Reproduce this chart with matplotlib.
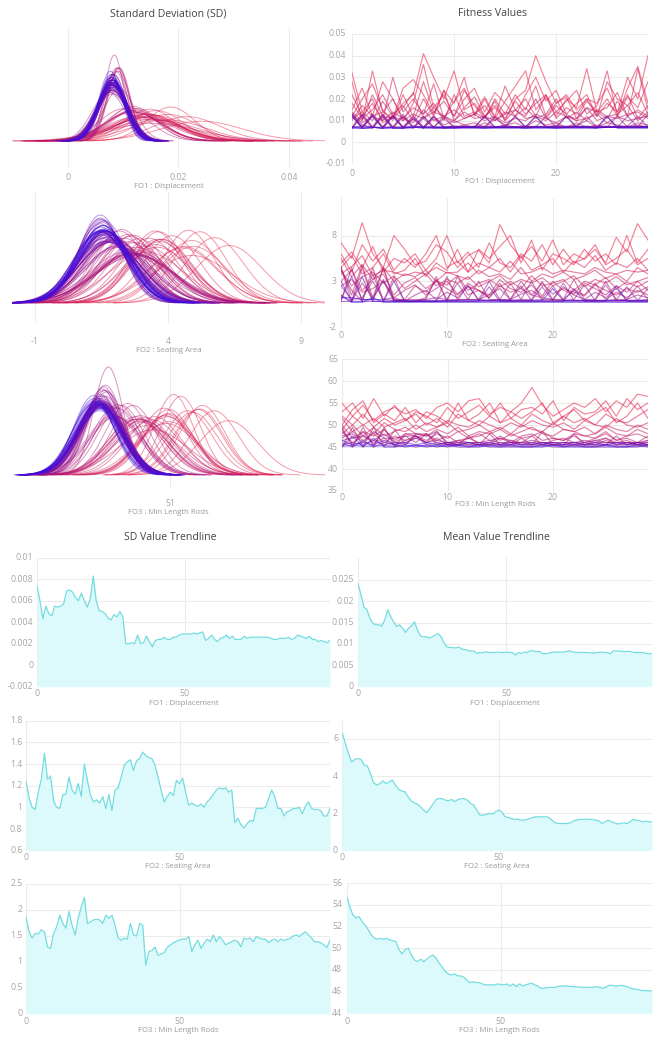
import numpy as np
import matplotlib
matplotlib.use('Agg')
import matplotlib.pyplot as plt
from matplotlib.transforms import blended_transform_factory

# ---------------- data ----------------
GEN = list(range(100))

SD_FO1 = [7.4,6.0,4.3,5.5,4.8,4.6,5.5,5.4,5.5,5.7, 6.9,7.0,6.8,6.3,6.0,6.7,6.0,5.4,6.2,8.3,
          6.0,5.1,5.0,4.8,4.4,4.2,4.7,4.5,5.0,4.5, 2.0,2.0,2.1,2.0,2.8,2.0,2.1,2.7,2.2,1.7,
          2.3,2.4,2.4,2.6,2.4,2.4,2.6,2.6,2.8,2.9, 2.9,2.9,2.9,3.0,2.9,3.0,3.1,2.3,2.5,2.8,
          2.4,2.2,2.5,2.6,2.8,2.5,2.7,2.4,2.4,2.4, 2.7,2.5,2.6,2.6,2.6,2.6,2.6,2.6,2.6,2.5,
          2.4,2.4,2.5,2.5,2.5,2.6,2.4,2.5,2.8,2.7, 2.6,2.5,2.7,2.4,2.4,2.2,2.3,2.2,2.1,2.3]   # x 0.001
MEAN_FO1 = [24.2,21.5,18.6,18.1,16.0,14.8,14.5,14.5,14.2,15.6, 18.0,16.4,15.2,14.1,14.5,13.7,12.7,13.7,14.2,15.2,
            13.3,11.9,11.7,11.7,11.4,11.7,12.1,12.4,11.7,10.2, 9.3,9.2,9.1,9.1,9.3,8.8,8.7,8.5,8.3,8.4,
            7.8,8.0,7.9,8.2,8.0,8.0,8.0,8.1,8.0,8.0, 8.1,8.0,8.0,7.4,8.0,7.8,8.1,8.0,8.4,8.4,
            8.2,8.3,7.8,7.7,7.8,8.0,8.1,8.1,8.1,8.1, 8.2,8.4,8.2,8.1,8.0,8.1,8.0,8.0,8.0,7.8,
            8.0,8.0,8.1,8.0,8.0,7.7,8.4,8.4,8.3,8.3, 8.2,8.3,8.2,8.0,8.0,8.0,8.0,7.8,7.7,7.8]  # x 0.001
SD_FO2 = [1.24,1.09,1.0,0.98,1.14,1.26,1.5,1.26,1.29,1.06, 1.0,0.99,1.12,1.12,1.28,1.16,1.12,1.22,1.1,1.4,
          1.25,1.11,1.05,1.07,1.04,1.1,0.99,1.12,0.97,1.16, 1.18,1.28,1.39,1.42,1.44,1.34,1.43,1.45,1.51,1.48,
          1.46,1.45,1.39,1.28,1.16,1.05,1.1,1.14,1.11,1.25, 1.22,1.27,1.14,1.02,1.04,1.02,1.01,1.03,1.0,1.05,
          1.08,1.12,1.16,1.18,1.17,1.18,1.14,1.16,0.86,0.9, 0.84,0.81,0.85,0.88,0.87,0.99,0.99,0.99,1.0,1.08,
          1.16,1.1,0.99,0.99,0.92,0.96,0.97,0.99,0.99,1.0, 0.94,1.01,1.05,0.99,0.98,0.98,0.97,0.92,0.92,0.99]
MEAN_FO2 = [6.3,5.75,5.2,4.77,4.9,4.95,4.9,4.6,4.55,4.15, 3.65,3.52,3.6,3.75,3.6,3.7,3.79,3.52,3.29,3.2,
            3.16,2.9,2.68,2.57,2.5,2.36,2.18,2.04,2.27,2.5, 2.75,2.8,2.79,2.71,2.68,2.75,2.63,2.75,2.79,2.8,
            2.71,2.54,2.45,2.18,1.91,1.91,1.95,2.0,1.96,2.09, 2.18,2.09,1.82,1.79,1.73,1.68,1.7,1.64,1.64,1.68,
            1.73,1.79,1.82,1.82,1.82,1.82,1.79,1.64,1.5,1.46, 1.46,1.46,1.46,1.5,1.61,1.64,1.68,1.68,1.7,1.68,
            1.68,1.64,1.61,1.46,1.55,1.64,1.55,1.5,1.43,1.46, 1.5,1.46,1.55,1.68,1.64,1.61,1.55,1.59,1.55,1.55]
SD_FO3 = [1.87,1.58,1.46,1.55,1.54,1.62,1.58,1.29,1.26,1.55, 1.68,1.9,1.74,1.65,1.97,1.71,1.52,1.84,2.06,2.24,
          1.74,1.77,1.81,1.82,1.81,1.74,1.9,1.84,1.9,1.71, 1.46,1.42,1.46,1.44,1.74,1.52,1.5,1.74,1.71,0.94,
          1.2,1.22,1.29,1.13,1.15,1.18,1.28,1.33,1.37,1.4, 1.42,1.44,1.44,1.49,1.2,1.33,1.42,1.26,1.36,1.44,
          1.39,1.52,1.39,1.49,1.42,1.33,1.36,1.39,1.42,1.39, 1.29,1.46,1.44,1.46,1.39,1.49,1.46,1.44,1.44,1.37,
          1.42,1.44,1.39,1.44,1.41,1.44,1.45,1.5,1.52,1.49, 1.54,1.58,1.52,1.46,1.39,1.39,1.37,1.33,1.28,1.42]
MEAN_FO3 = [54.77,53.85,53.1,52.8,52.92,52.46,52.15,51.7,51.23,50.92, 50.83,50.92,50.83,50.92,50.77,50.7,50.6,49.85,49.48,49.9,
            50.0,49.38,48.92,48.77,49.0,48.77,49.0,49.23,49.38,49.08, 48.62,48.25,47.85,47.63,47.54,47.63,47.45,47.45,47.32,47.02,
            46.83,46.92,46.83,46.83,46.71,46.62,46.62,46.62,46.62,46.71, 46.65,46.62,46.71,46.52,46.71,46.46,46.71,46.52,46.62,46.71,
            46.77,46.62,46.52,46.31,46.31,46.37,46.4,46.37,46.43,46.52, 46.52,46.52,46.49,46.46,46.46,46.43,46.4,46.4,46.4,46.4,
            46.4,46.46,46.4,46.31,46.4,46.58,46.58,46.52,46.52,46.58, 46.52,46.46,46.31,46.25,46.22,46.15,46.09,46.09,46.06,46.09]

# Fitness values of individuals 0..29 for a subset of generations
FIT1_GEN = [0, 3, 6, 9, 12, 15, 18, 21, 24, 27, 30, 34, 38, 42, 46, 50, 58, 66, 74, 82, 90, 99]
FIT1 = [  # x 0.001
    [32,14,20,9,12,18,22,41,30,20,33,15,18,12,16,10,20,24,40,28,18,22,15,20,18,25,14,30,20,40],
    [28,10,33,14,11,25,29,22,13,24,18,30,12,20,11,19,26,33,15,21,12,20,16,34,14,20,12,25,35,18],
    [15,25,12,28,20,10,18,36,16,22,12,20,25,14,23,18,12,22,30,19,24,13,18,22,12,28,20,17,23,13],
    [22,12,18,10,30,14,20,13,27,11,19,25,13,21,12,26,15,20,12,22,14,19,24,13,17,33,12,21,16,28],
    [12,20,27,15,10,22,12,28,14,19,12,24,17,11,20,13,22,15,26,12,18,21,11,19,14,16,23,12,34,15],
    [18,11,15,22,13,17,10,20,12,24,10,16,21,12,17,11,19,13,18,22,11,16,13,20,12,18,14,22,11,17],
    [10,17,12,14,20,11,16,13,18,10,22,12,14,11,19,10,15,12,20,11,17,13,10,16,14,11,19,12,15,12],
    [14,10,22,12,11,16,23,11,14,12,15,11,13,17,10,14,12,16,11,13,20,11,14,10,15,12,13,17,10,14],
    [11,14,10,19,12,10,13,11,16,12,10,14,11,12,10,13,15,11,12,10,14,12,11,16,10,12,11,13,14,11],
    [13,9,12,10,14,11,9,15,10,12,9,11,13,10,12,9,11,10,13,11,9,12,10,11,13,9,12,10,11,12],
    [13,7,13,7,13,7,12,7,12,8,10,8,9,7,11,8,9,7,10,8,9,7,8,10,7,9,8,7,9,8],
    [7,13,7,13,7,13,7,12,7,12,7,8,7,9,7,8,7,7,12,7,8,7,9,7,8,7,12,7,8,7],
    [12,6.5,12,6.5,12,6.5,11,6.5,11,7,7.5,7,7,12,7,7.5,7,7,7.5,7,7,12,7,7.5,7,7,7,7.5,12,7],
    [6.5,12,6.5,12,6.5,12,6.5,11,6.5,7,7,7.5,7,7,7,7,12,7,7,7.5,7,7,7,12,7,7.5,7,7,7,7],
    [13,8,7,13,7,7,12,7,7,11,7,7,7.5,7,7,7,7,7.5,7,12,7,7,7.5,7,7,7,7.5,7,7,13],
    [7,7,13,7,7,12,7,7,12,7,7.5,7,7,7,12,7,7,7.5,7,7,7,7.5,7,7,7,12,7,7,7.5,7],
    [6.5,13,7,6.5,12,7,6.5,12,7,6.5,7,7,7,7.5,7,7,7,7,7,7,7.5,7,7,7,7,7,7,12,7,7],
    [13,6.5,6.5,12,6.5,6.5,11,6.5,12,6.5,7,7,7,7,7,7.5,12,7,7,7,7,7,7.5,7,7,7,7,7,7,7],
    [7,7.5,7,7,7,7,7.5,7,7,7,7,7,7,12,7,7,7,7,7,7,7,12,7,7,7,7,7,7.5,7,7],
    [12,7,12,7,12,7,7,7,7,7,7,7,7,7,7,7,7,7,12,7,7,7,7,7,7,7,7,7,7,7.5],
    [6.5,6.5,7,6.5,6.5,6.5,7,6.5,6.5,6.5,6.5,6.5,6.5,6.5,6.5,6.5,6.5,6.5,6.5,6.5,6.5,6.5,6.5,6.5,6.5,12,6.5,6.5,6.5,6.5],
    [7,6.5,7,6.5,7,6.5,7,7,7,7,6.5,7,7,6.5,7,7,7,6.5,7,7,6.5,7,7,7,6.5,7,7,7,7,7],
]
FIT2_GEN = [0, 3, 6, 9, 12, 15, 18, 21, 24, 27, 30, 35, 40, 45, 50, 60, 70, 80, 90, 99]
FIT2 = [
    [7.2,5.5,9.4,6.0,4.5,8.0,6.5,4.8,5.2,7.0,6.2,4.5,5.8,6.4,5.0,9.2,7.0,5.5,6.8,5.2,7.5,4.8,6.0,5.4,6.5,5.0,7.8,6.2,9.3,7.5],
    [6.0,4.0,7.0,5.2,6.5,4.2,5.5,4.5,6.0,8.0,4.5,5.2,4.0,6.5,5.5,6.8,8.0,5.0,7.5,4.2,6.0,5.5,4.8,6.5,5.2,6.0,4.8,8.0,5.0,6.5],
    [5.0,6.2,4.5,6.8,4.0,5.5,5.0,6.0,4.2,5.5,8.0,5.0,6.2,4.5,7.2,5.0,4.5,6.0,5.2,7.0,4.8,6.5,5.0,5.5,7.0,4.8,5.5,6.5,4.8,5.5],
    [4.5,5.8,3.8,4.5,6.0,3.8,4.2,5.5,3.5,5.0,4.2,6.5,4.0,5.0,4.5,5.5,4.0,5.8,4.2,4.8,5.5,4.0,5.2,4.5,5.8,4.2,5.0,4.5,5.5,4.2],
    [3.8,4.6,5.8,3.6,4.2,4.0,3.6,4.0,3.8,4.5,3.9,4.0,5.0,3.8,4.5,4.0,5.2,3.8,4.0,4.5,3.8,4.2,4.0,3.8,4.5,4.0,3.8,4.2,4.0,4.2],
    [5.5,3.5,4.8,3.2,4.5,3.0,3.8,3.5,4.2,3.0,4.0,3.6,3.2,4.2,3.5,3.8,3.2,4.5,3.0,3.8,3.4,4.0,3.2,3.6,4.2,3.3,3.8,3.0,4.5,3.8],
    [4.2,2.5,3.5,4.0,2.8,3.6,2.2,3.0,3.8,2.5,3.2,2.8,3.5,2.4,3.0,3.6,2.6,3.2,2.8,3.4,2.5,3.0,3.6,2.4,3.2,2.8,3.5,2.6,3.0,3.4],
    [3.0,4.2,2.0,3.2,3.8,1.5,2.8,3.4,2.2,3.0,2.6,3.6,2.0,2.8,3.2,2.4,3.0,2.2,3.6,2.5,2.8,3.2,2.0,3.0,2.6,3.4,2.2,2.9,2.4,3.0],
    [4.5,1.5,4.8,1.2,4.5,1.0,1.0,2.5,1.8,3.0,2.2,1.5,2.8,2.0,1.5,3.2,2.2,1.8,2.6,1.4,3.0,2.0,1.6,2.8,2.2,1.5,2.5,1.8,3.0,2.0],
    [2.5,3.2,1.8,2.2,3.0,1.2,2.0,2.6,1.5,2.2,3.0,1.6,2.4,2.0,1.2,2.5,1.8,2.2,1.5,2.8,1.6,2.2,1.8,1.4,2.6,2.0,1.5,2.2,1.8,2.4],
    [4.5,0.8,4.5,0.8,4.5,0.8,1.0,1.0,1.0,3.5,0.8,3.5,1.5,2.0,1.2,2.8,1.0,3.0,1.5,1.2,2.5,1.0,2.0,1.5,2.8,1.0,1.8,1.2,2.0,1.5],
    [0.8,4.5,0.8,4.5,0.8,3.5,0.8,0.8,0.8,0.8,3.5,1.0,1.0,3.0,1.0,1.0,2.8,1.0,1.0,3.0,1.0,1.0,3.2,1.0,1.0,3.0,1.0,1.0,2.5,1.0],
    [4.2,2.0,0.8,3.8,0.8,0.8,0.8,0.8,1.2,3.2,1.0,1.0,1.0,1.0,3.0,1.0,0.9,1.0,3.0,0.9,0.9,2.8,0.9,0.9,0.9,2.6,0.9,0.9,0.9,2.2],
    [1.5,0.8,2.8,1.2,3.0,0.8,0.8,1.5,2.0,1.0,1.8,1.2,2.5,1.0,1.5,2.2,1.0,1.6,2.0,1.2,1.0,2.4,1.5,1.0,1.8,1.2,2.2,1.0,1.5,1.2],
    [2.5,1.0,1.2,3.0,1.0,1.2,0.8,0.8,1.0,1.2,1.0,2.8,1.0,1.0,0.9,1.0,1.0,2.5,0.9,1.0,1.0,0.9,1.0,2.6,0.9,0.9,1.0,2.4,0.9,1.0],
    [1.0,3.5,1.0,1.0,3.2,1.0,0.8,0.8,0.8,0.8,0.9,0.9,2.6,0.9,0.9,0.9,0.9,0.9,0.9,2.4,0.9,0.9,0.9,0.9,0.9,0.9,0.9,0.9,0.9,0.9],
    [0.8,0.8,3.5,0.8,0.8,3.0,0.8,0.8,0.8,0.8,0.8,0.8,0.8,0.8,2.4,0.8,0.8,0.8,0.8,0.8,0.8,0.8,2.2,0.8,0.8,0.8,0.8,0.8,0.8,0.8],
    [3.0,0.8,0.8,0.8,0.8,0.8,0.8,0.8,0.8,0.8,0.8,0.8,0.8,0.8,0.8,0.8,0.8,0.8,0.8,0.8,0.8,0.8,0.8,0.8,0.8,0.8,2.5,0.8,0.8,0.8],
    [1.2,1.2,1.0,1.0,1.0,0.9,0.9,0.9,0.9,0.9,0.9,0.9,0.9,0.9,0.9,0.9,0.9,0.9,0.9,0.9,2.2,0.9,0.9,0.9,0.9,0.9,0.9,0.9,0.9,0.9],
    [1.4,0.7,0.7,1.2,0.7,0.7,0.7,0.7,0.7,0.7,0.7,0.7,0.7,0.7,0.7,0.7,0.7,0.7,0.7,0.7,0.7,0.7,0.7,0.7,0.7,0.7,0.7,0.7,0.7,0.7],
]
FIT3_GEN = [0, 3, 6, 9, 12, 15, 18, 21, 24, 27, 30, 35, 40, 45, 50, 60, 70, 80, 90, 99]
FIT3 = [
    [55.0,52.0,54.5,51.0,53.0,54.0,52.5,53.5,51.5,54.0,55.0,53.0,55.5,56.0,52.5,54.0,53.0,55.0,58.5,54.5,52.0,53.5,55.0,54.0,56.0,53.0,55.5,54.0,57.0,56.5],
    [53.0,55.0,51.5,56.0,52.0,54.5,51.0,53.0,52.0,50.5,54.0,51.5,53.0,54.5,52.0,55.0,51.5,53.5,54.0,52.5,55.5,51.0,54.0,52.5,53.0,55.5,52.0,56.0,53.5,55.0],
    [50.0,53.5,55.5,50.5,52.5,51.0,54.0,50.5,53.0,52.0,50.5,55.0,51.0,52.5,55.0,50.5,53.0,51.5,53.0,55.0,50.5,52.0,53.5,51.0,52.5,54.0,50.5,52.0,55.0,51.5],
    [52.0,50.0,52.5,49.5,51.5,50.0,51.0,52.5,50.0,51.5,49.5,52.5,51.0,50.0,52.0,50.5,51.5,50.0,52.5,51.0,50.0,52.0,50.5,51.5,50.0,52.5,51.0,50.5,52.0,53.5],
    [49.0,52.0,50.0,51.5,49.5,50.5,51.5,49.0,50.5,49.5,51.0,50.0,49.5,51.0,50.0,49.0,50.5,49.5,51.0,50.0,49.5,50.5,49.0,51.0,50.0,49.5,51.5,50.0,49.5,50.5],
    [51.5,48.5,50.0,48.0,50.5,49.0,48.5,50.0,48.5,49.5,50.5,48.5,49.0,50.0,48.5,49.5,48.0,50.0,49.0,48.5,50.5,49.0,48.5,49.5,48.0,50.0,49.0,48.5,50.0,49.0],
    [48.0,50.0,47.5,49.5,47.5,48.5,49.5,48.0,47.5,49.0,48.0,49.5,47.5,48.5,48.0,49.0,47.5,48.5,49.5,48.0,47.5,49.0,48.5,47.5,48.0,49.5,48.0,47.5,49.0,48.0],
    [50.0,47.0,48.5,47.5,49.0,46.5,48.0,47.5,46.5,48.0,47.0,48.5,47.0,47.5,48.5,46.5,48.0,47.0,47.5,48.5,47.0,46.5,48.0,47.5,47.0,48.5,46.5,47.5,48.0,47.0],
    [47.0,48.5,46.5,48.0,46.0,47.5,46.5,47.0,48.0,46.5,47.5,46.0,47.0,48.0,46.5,47.0,46.0,47.5,48.0,46.5,47.0,46.5,47.5,46.0,47.0,48.0,46.5,47.0,46.0,47.5],
    [48.5,46.0,47.5,46.0,47.0,45.5,46.5,47.5,46.0,47.0,45.5,46.5,47.0,46.0,45.5,47.0,46.5,46.0,47.5,45.5,46.5,47.0,46.0,45.5,46.5,47.0,46.0,46.5,45.5,46.5],
    [49.5,45.0,49.5,45.0,49.5,45.0,48.0,48.0,48.0,45.5,46.0,45.5,47.5,45.5,46.0,45.5,46.5,45.5,45.5,48.5,45.5,46.0,45.5,45.5,46.0,47.0,45.5,46.0,45.5,46.0],
    [45.0,49.5,45.0,49.5,45.0,49.0,45.5,48.0,47.5,48.5,45.5,46.0,45.5,45.5,48.0,45.5,45.5,46.0,45.5,46.0,45.5,45.5,48.0,45.5,45.5,46.5,45.5,45.5,46.0,45.5],
    [49.0,45.5,48.5,45.5,49.0,46.0,47.5,46.0,48.0,46.0,45.5,45.5,45.5,45.5,45.5,45.5,45.5,47.0,45.5,45.5,45.5,45.5,45.5,45.5,45.5,45.5,47.5,45.5,45.5,45.5],
    [47.5,48.0,46.0,48.5,47.0,47.0,47.5,47.5,46.0,46.5,46.0,46.5,46.0,46.0,46.5,46.0,46.0,46.0,46.5,46.0,46.0,46.0,46.0,46.5,46.0,46.0,46.0,46.0,46.0,46.5],
    [46.5,47.0,47.5,46.5,48.0,46.0,46.0,47.0,46.0,48.5,46.0,46.0,46.0,46.0,46.0,47.5,46.0,46.0,46.0,46.0,46.0,46.0,46.0,46.0,46.5,46.0,46.0,46.0,46.0,46.0],
    [45.5,46.0,45.5,46.5,45.5,46.0,45.5,47.5,45.5,46.0,45.5,45.5,46.0,45.5,45.5,46.0,45.5,45.5,45.5,46.0,45.5,45.5,45.5,46.0,45.5,45.5,45.5,46.0,45.5,45.5],
    [46.0,45.0,46.5,45.0,46.0,45.5,45.0,45.5,45.0,45.5,45.0,45.5,45.0,45.5,45.0,45.0,45.5,45.0,45.0,45.5,45.0,45.0,45.5,45.0,45.0,45.5,45.0,45.0,45.0,45.5],
    [45.0,47.5,45.0,47.0,45.0,45.0,45.5,45.0,45.5,45.0,45.5,45.0,45.0,45.0,45.5,45.0,45.0,45.0,45.0,45.0,45.5,45.0,45.0,45.0,45.0,45.0,45.0,45.0,45.5,45.0],
    [46.5,45.5,46.0,45.5,46.5,45.5,46.0,45.5,46.0,45.5,46.0,45.5,46.0,45.5,46.0,45.5,46.0,45.5,46.0,45.5,46.0,45.5,46.0,45.5,46.0,45.5,46.0,45.5,46.0,45.5],
    [45.2,45.3,45.2,45.2,45.3,45.2,45.2,45.3,45.2,45.2,45.2,45.3,45.2,45.2,45.2,45.3,45.2,45.2,45.2,45.2,45.3,45.2,45.2,45.2,45.2,45.3,45.2,45.2,45.2,45.2],
]

TITLES = ["Standard Deviation (SD)", "Fitness Values", "SD Value Trendline", "Mean Value Trendline"]
LABELS = ["FO1 : Displacement", "FO2 : Seating Area", "FO3 : Min Length Rods"]

# ---------------- style ----------------
W, H = 654, 1039
plt.rcParams['font.family'] = ['Open Sans', 'DejaVu Sans']
fig = plt.figure(figsize=(W / 100, H / 100), dpi=100)
fig.patch.set_facecolor('white')

RED = np.array([0.92, 0.12, 0.26])
BLUE = np.array([0.24, 0.05, 0.88])
GRID = '#ebebeb'
TICKC = '#a6a6a6'
LABC = '#9a9a9a'
TITC = '#444444'
TICK_FS = 6.3
LAB_FS = 5.6
TIT_FS = 7.6
LINEC = '#74dcdf'
FILLC = '#dcfafb'


def gcol(g):
    f = g / 99.0
    return tuple(RED * (1 - f) + BLUE * f)


def add_ax(l, t, r, b):
    ax = fig.add_axes([l / W, 1 - b / H, (r - l) / W, (b - t) / H])
    for s in ax.spines.values():
        s.set_visible(False)
    ax.tick_params(length=0, labelbottom=False, labelleft=False)
    ax.set_facecolor('none')
    ax.set_axisbelow(True)
    return ax


def xtick_text(ax, ticks, labels, py):
    tr = blended_transform_factory(ax.transData, fig.transFigure)
    for t, lab in zip(ticks, labels):
        ax.text(t, 1 - py / H, lab, transform=tr, ha='center', va='center',
                fontsize=TICK_FS, color=TICKC, clip_on=False)


def ytick_text(ax, ticks, labels, px):
    tr = blended_transform_factory(fig.transFigure, ax.transData)
    for t, lab in zip(ticks, labels):
        ax.text(px / W, t, lab, transform=tr, ha='right', va='center',
                fontsize=TICK_FS, color=TICKC, clip_on=False)


def ftext(px, py, s, fs, c):
    fig.text(px / W, 1 - py / H, s, ha='center', va='center', fontsize=fs, color=c)


def density_panel(box, means, sds, xlim, ticks, ticklabels, B, P, tick_y, label, label_y):
    ax = add_ax(*box)
    peak = max(1.0 / (s * np.sqrt(2 * np.pi)) for s in sds)
    for g, m, s in zip(GEN, means, sds):
        xs = np.linspace(m - 3.5 * s, m + 3.5 * s, 160)
        ys = np.exp(-0.5 * ((xs - m) / s) ** 2) / (s * np.sqrt(2 * np.pi))
        ax.plot(xs, ys, color=gcol(g), lw=0.7, alpha=0.45, solid_capstyle='round')
    hpx = box[3] - box[1]
    k = peak / (P - B)
    ax.set_ylim(-B * k, (hpx - B) * k)
    ax.set_xlim(*xlim)
    ax.set_xticks(ticks)
    ax.set_yticks([])
    ax.grid(axis='x', color=GRID, lw=0.8)
    xtick_text(ax, ticks, ticklabels, tick_y)
    ftext((box[0] + box[2]) / 2, label_y, label, LAB_FS, LABC)
    return ax


def fitness_panel(box, gens, rows, scale, ylim, yt, ytl, ytx, xt_y, label, label_y):
    ax = add_ax(*box)
    for g, row in zip(gens, rows):
        ax.plot(range(len(row)), np.array(row) * scale, color=gcol(g), lw=0.85, alpha=0.55)
    ax.set_xlim(0, 29)
    ax.set_ylim(*ylim)
    ax.set_xticks([0, 10, 20])
    ax.set_yticks(yt)
    ax.grid(color=GRID, lw=0.8)
    xtick_text(ax, [0, 10, 20], ['0', '10', '20'], xt_y)
    ytick_text(ax, yt, ytl, ytx)
    ftext((box[0] + box[2]) / 2, label_y, label, LAB_FS, LABC)
    return ax


def trend_panel(box, values, scale, ylim, yt, ytl, ytx, xt_y, label, label_y):
    ax = add_ax(*box)
    v = np.array(values) * scale
    ax.fill_between(GEN, v, ylim[0], color=FILLC, lw=0)
    ax.plot(GEN, v, color=LINEC, lw=0.9)
    ax.set_xlim(0, 99)
    ax.set_ylim(*ylim)
    ax.set_xticks([0, 50])
    ax.set_yticks(yt)
    ax.grid(color=GRID, lw=0.8)
    xtick_text(ax, [0, 50], ['0', '50'], xt_y)
    ytick_text(ax, yt, ytl, ytx)
    ftext((box[0] + box[2]) / 2, label_y, label, LAB_FS, LABC)
    return ax


m1 = [v * 0.001 for v in MEAN_FO1]
s1 = [v * 0.001 for v in SD_FO1]

# ---------- top section ----------
ftext(168, 14, TITLES[0], TIT_FS, TITC)
ftext(492, 14, TITLES[1], TIT_FS, TITC)

density_panel((12, 28, 325, 167), m1, s1, (-0.0101, 0.0465), [0, 0.02, 0.04], ['0', '0.02', '0.04'],
              26, 112, 178, LABELS[0], 186.5)
density_panel((12, 192, 325, 323), MEAN_FO2, SD_FO2, (-1.86, 9.9), [-1, 4, 9], ['-1', '4', '9'],
              20, 108, 342, LABELS[1], 350.5)
density_panel((12, 352, 325, 488), MEAN_FO3, SD_FO3, (40.8, 61.0), [51], ['51'],
              13, 121, 503, LABELS[2], 512)

fitness_panel((352, 34, 648, 164), FIT1_GEN, FIT1, 0.001, (-0.01, 0.05),
              [-0.01, 0, 0.01, 0.02, 0.03, 0.04, 0.05], ['-0.01', '0', '0.01', '0.02', '0.03', '0.04', '0.05'],
              346, 173.5, LABELS[0], 181.5)
fitness_panel((341, 198, 648, 327), FIT2_GEN, FIT2, 1.0, (-2, 12.1),
              [-2, 3, 8], ['-2', '3', '8'], 337, 336, LABELS[1], 344.5)
fitness_panel((342, 359, 648, 491), FIT3_GEN, FIT3, 1.0, (35, 65),
              [35, 40, 45, 50, 55, 60, 65], ['35', '40', '45', '50', '55', '60', '65'],
              338, 497, LABELS[2], 505)

# ---------- bottom section ----------
ftext(170, 537, TITLES[2], TIT_FS, TITC)
ftext(496, 537, TITLES[3], TIT_FS, TITC)

trend_panel((37, 557.7, 330, 686.7), SD_FO1, 0.001, (-0.002, 0.01),
            [-0.002, 0, 0.002, 0.004, 0.006, 0.008, 0.01],
            ['-0.002', '0', '0.002', '0.004', '0.006', '0.008', '0.01'], 33.5, 694, LABELS[0], 703.5)
trend_panel((358, 557.7, 652, 686.7), MEAN_FO1, 0.001, (0, 0.0302),
            [0, 0.005, 0.01, 0.015, 0.02, 0.025], ['0', '0.005', '0.01', '0.015', '0.02', '0.025'],
            354, 694, LABELS[0], 703.5)
trend_panel((26, 720.7, 330, 850.7), SD_FO2, 1.0, (0.6, 1.8),
            [0.6, 0.8, 1.0, 1.2, 1.4, 1.6, 1.8], ['0.6', '0.8', '1', '1.2', '1.4', '1.6', '1.8'],
            22.5, 857.5, LABELS[1], 866.5)
trend_panel((342.3, 720.7, 652, 850.7), MEAN_FO2, 1.0, (0, 6.98),
            [0, 2, 4, 6], ['0', '2', '4', '6'], 338, 857.5, LABELS[1], 866.5)
trend_panel((26, 884, 330, 1014), SD_FO3, 1.0, (0, 2.5),
            [0, 0.5, 1.0, 1.5, 2.0, 2.5], ['0', '0.5', '1', '1.5', '2', '2.5'], 22.5, 1021.5, LABELS[2], 1030.5)
trend_panel((346.7, 883.3, 652, 1013.3), MEAN_FO3, 1.0, (44, 56),
            [44, 46, 48, 50, 52, 54, 56], ['44', '46', '48', '50', '52', '54', '56'], 342, 1021.5, LABELS[2], 1030.5)

fig.savefig('out.png', dpi=100, facecolor='white')
